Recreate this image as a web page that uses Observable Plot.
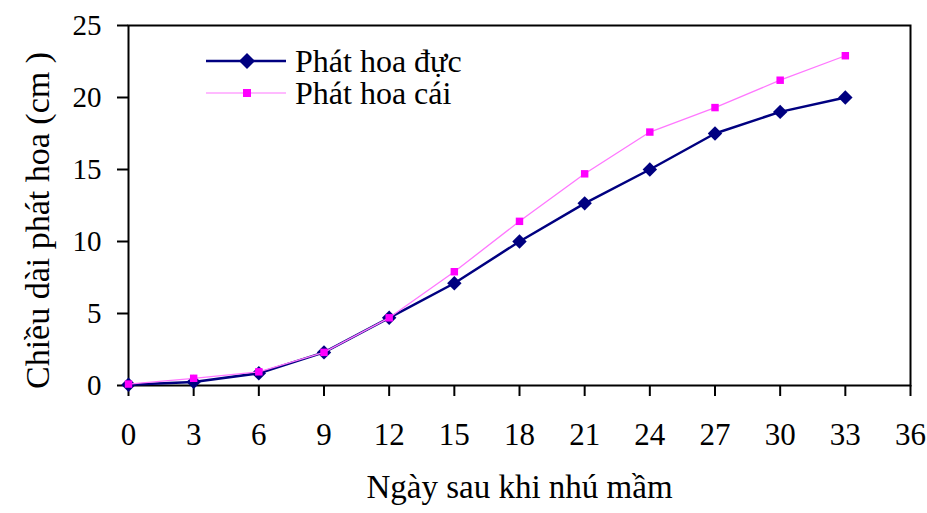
<!DOCTYPE html>
<html><head><meta charset="utf-8">
<script src="https://cdn.jsdelivr.net/npm/d3@7"></script>
<script src="https://cdn.jsdelivr.net/npm/@observablehq/plot@0.6"></script>
<style>
body{margin:0;background:#fff}
#wrap{position:relative;width:927px;height:513px;font-family:"Liberation Serif",serif;color:#000}
#legend{position:absolute;left:205px;top:45px;}
.row{display:flex;align-items:center;height:32px;font-size:32px;line-height:32px;white-space:nowrap}
.row svg{margin-right:8px}
</style></head><body>
<div id="wrap"><div id="legend"></div></div>
<script>
const days = [0, 3, 6, 9, 12, 15, 18, 21, 24, 27, 30, 33];
const maleLength = [0.05, 0.25, 0.85, 2.3, 4.7, 7.1, 10.0, 12.65, 15.0, 17.5, 19.0, 20.0];
const femaleLength = [0.1, 0.5, 0.95, 2.3, 4.7, 7.9, 11.4, 14.7, 17.6, 19.3, 21.2, 22.9];
const xTicks = [0, 3, 6, 9, 12, 15, 18, 21, 24, 27, 30, 33, 36];
const yTicks = [0, 5, 10, 15, 20, 25];
const seriesNames = ["Phát hoa đực", "Phát hoa cái"];
const xTitle = "Ngày sau khi nhú mầm";
const yTitle = "Chiều dài phát hoa (cm )";
const maleColor = "#000080";
const femaleColor = "#ff00ff";

const male = days.map((d, i) => ({day: d, len: maleLength[i]}));
const female = days.map((d, i) => ({day: d, len: femaleLength[i]}));

const chart = Plot.plot({
  width: 927, height: 513,
  marginLeft: 128, marginRight: 17, marginTop: 25, marginBottom: 128,
  style: {fontFamily: "Liberation Serif", background: "white", color: "black", overflow: "visible"},
  x: {domain: [0, 36], ticks: xTicks},
  y: {domain: [0, 25], ticks: yTicks},
  marks: [
    Plot.frame({stroke: "black", strokeWidth: 2}),
    Plot.axisX({ticks: xTicks, tickSize: 11, tickPadding: 26, fontSize: 31, label: null, strokeWidth: 2}),
    Plot.axisY({ticks: yTicks, tickSize: 11, tickPadding: 16, fontSize: 29, label: null, strokeWidth: 2}),
    Plot.line(male, {x: "day", y: "len", stroke: maleColor, strokeWidth: 2.5}),
    Plot.dot(male, {x: "day", y: "len", symbol: "diamond2", r: 6.5, fill: maleColor, stroke: null}),
    Plot.line(female, {x: "day", y: "len", stroke: "#ff77ff", strokeWidth: 1.3}),
    Plot.dot(female, {x: "day", y: "len", symbol: "square", r: 4.2, fill: femaleColor, stroke: null}),
    Plot.text([xTitle], {frameAnchor: "bottom", dy: 112, fontSize: 33}),
    Plot.text([yTitle], {frameAnchor: "left", textAnchor: "middle", dx: -90, dy: 15, rotate: -90, fontSize: 34})
  ]
});
document.getElementById("wrap").prepend(chart);

const legend = document.getElementById("legend");
const swatch = [
  `<svg width="82" height="32"><line x1="1" y1="16" x2="81" y2="16" stroke="${maleColor}" stroke-width="2.5"/><path d="M42,8L50,16L42,24L34,16Z" fill="${maleColor}"/></svg>`,
  `<svg width="82" height="32"><line x1="1" y1="16" x2="81" y2="16" stroke="#ff77ff" stroke-width="1.2"/><rect x="38" y="12" width="8" height="8" fill="${femaleColor}"/></svg>`
];
seriesNames.forEach((name, i) => {
  const row = document.createElement("div");
  row.className = "row";
  row.innerHTML = swatch[i] + `<span>${name}</span>`;
  legend.appendChild(row);
});
</script>
</body></html>
